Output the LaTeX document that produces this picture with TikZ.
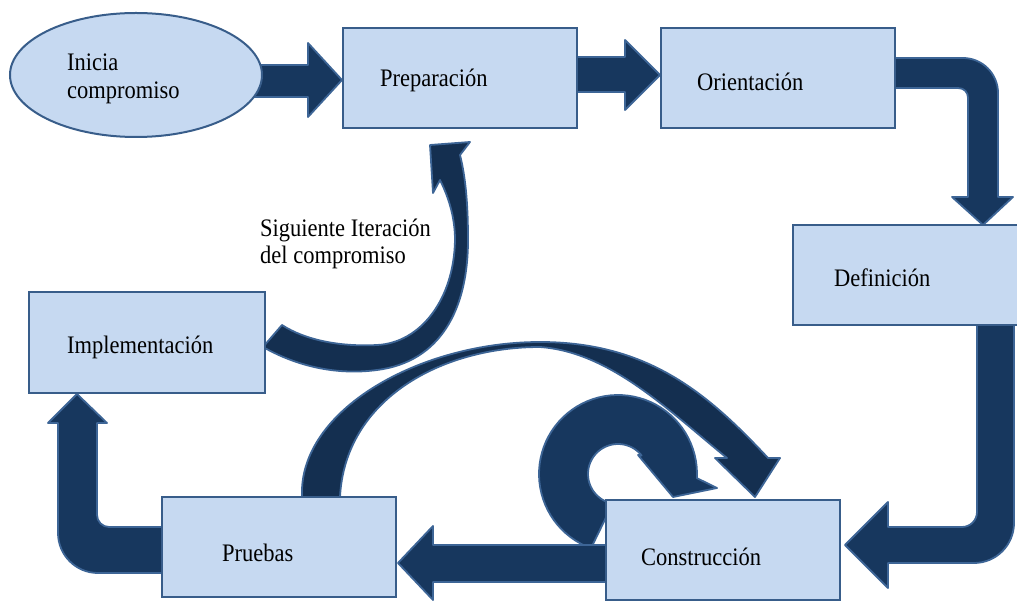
\documentclass[tikz,border=0pt]{standalone}
\usepackage{graphicx}
\usepackage{fontspec}
\setmainfont{Liberation Serif}
\usetikzlibrary{shapes.geometric}
\definecolor{boxfill}{HTML}{C6D9F1}
\definecolor{boxline}{HTML}{385D8A}
\definecolor{arrowfill}{HTML}{17375E}
\definecolor{arrowline}{HTML}{3D6596}
\definecolor{ribbonfill}{HTML}{142F50}
% slightly tall lettering
\newcommand{\tall}[1]{\scalebox{1}[1.12]{#1}}
\begin{document}
\begin{tikzpicture}[x=1pt,y=-1pt,
  stage/.style={draw=boxline, line width=2pt, fill=boxfill, inner sep=0pt,
    minimum width=234pt, minimum height=100pt},
  stagetext/.style={anchor=base west, inner sep=0pt, font=\fontsize{22.5}{27.5}\selectfont},
  blockarrow/.style={fill=arrowfill, draw=arrowline, line width=1.8pt, line join=round},
  ribbon/.style={fill=ribbonfill, draw=arrowline, line width=1.8pt, line join=round}]
\useasboundingbox (0,0) rectangle (1017,601);
\clip (0,0) rectangle (1017,601);

% wide arch from Pruebas over to Construccion
\path[ribbon] (302,497) .. controls (298,410) and (420,342) .. (540,342)
  .. controls (650,342) and (710,396) .. (768,458)
  -- (780,458) -- (755,497) -- (715,458) -- (727,458)
  .. controls (668,410) and (610,352) .. (540,347)
  .. controls (440,347) and (345,400) .. (340,497) -- cycle;

% circular loop returning onto Construccion
\path[blockarrow] plot[domain=110:363, samples=60] ({618+79*cos(\x)},{474+79*sin(\x)})
  -- (717,488) -- (673,497) -- (638,455)
  -- plot[domain=322:100, samples=50] ({618+30*cos(\x)},{474+30*sin(\x)}) -- cycle;

% straight block arrows
\path[blockarrow] (250,65) -- (308,65) -- (308,43) -- (342,80) -- (308,117)
  -- (308,97) -- (250,97) -- cycle;
\path[blockarrow] (572,57) -- (625,57) -- (625,40) -- (660,75) -- (625,110)
  -- (625,92) -- (572,92) -- cycle;
\path[blockarrow] (612,545) -- (433,545) -- (433,526) -- (398,563) -- (433,600)
  -- (433,582) -- (612,582) -- cycle;

% bent block arrows
\path[blockarrow] (885,58) -- (963,58) .. controls (982.3,58) and (998,73.7) .. (998,93)
  -- (998,197) -- (1013,197) -- (983,225) -- (952,197) -- (968,197) -- (968,98)
  .. controls (968,92.5) and (964.5,88) .. (958,88) -- (885,88) -- cycle;
\path[blockarrow] (977,318) -- (1014,318) -- (1014,523)
  .. controls (1014,545.1) and (996.1,563) .. (974,563)
  -- (888,563) -- (888,588) -- (845,545) -- (888,502) -- (888,527) -- (962,527)
  .. controls (970.3,527) and (977,520.3) .. (977,512) -- cycle;
\path[blockarrow] (168,527) -- (109,527) .. controls (102.4,527) and (97,521.6) .. (97,515)
  -- (97,423) -- (107,423) -- (77,394) -- (48,423) -- (58,423) -- (58,533)
  .. controls (58,555.1) and (75.9,573) .. (98,573) -- (168,573) -- cycle;

% curved arrow for the next iteration
\path[ribbon] (263,347) .. controls (300,368) and (340,375) .. (377,370)
  .. controls (440,362) and (468,310) .. (468,240)
  .. controls (468,200) and (465,175) .. (460,155)
  -- (470,142) -- (430,145) -- (433,193) -- (440,180)
  .. controls (450,200) and (455,220) .. (455,240)
  .. controls (454,300) and (420,343) .. (377,345)
  .. controls (340,347) and (305,340) .. (282,325) -- cycle;

% stages
\node[ellipse, draw=boxline, line width=2pt, fill=boxfill, inner sep=0pt,
  minimum width=252pt, minimum height=124pt] (inicio) at (136,75) {};
\node[stage] (prep) at (460,78.5) {};
\node[stage] (orient) at (777.5,78) {};
\node[stage] (defin) at (910,275.5) {};
\node[stage, minimum width=236pt] (impl) at (147,342.5) {};
\node[stage] (prueb) at (279,547) {};
\node[stage] (constr) at (723,549.5) {};

% texts
\node[stagetext, anchor=north west, align=left] (tinicio) at (67,53.8) {\tall{Inicia}\\\tall{compromiso}};
\node[stagetext] (tprep) at (380,87) {\tall{Preparación}};
\node[stagetext] (torient) at (697,91) {\tall{Orientación}};
\node[stagetext] (tdefin) at (834,287) {\tall{Definición}};
\node[stagetext] (timpl) at (67,354) {\tall{Implementación}};
\node[stagetext] (tprueb) at (222,561) {\tall{Pruebas}};
\node[stagetext] (tconstr) at (641,565) {\tall{Construcción}};
\node[stagetext, anchor=north west, align=left] (titer) at (260,218.6) {\tall{Siguiente Iteración}\\\tall{del compromiso}};
\end{tikzpicture}
\end{document}
